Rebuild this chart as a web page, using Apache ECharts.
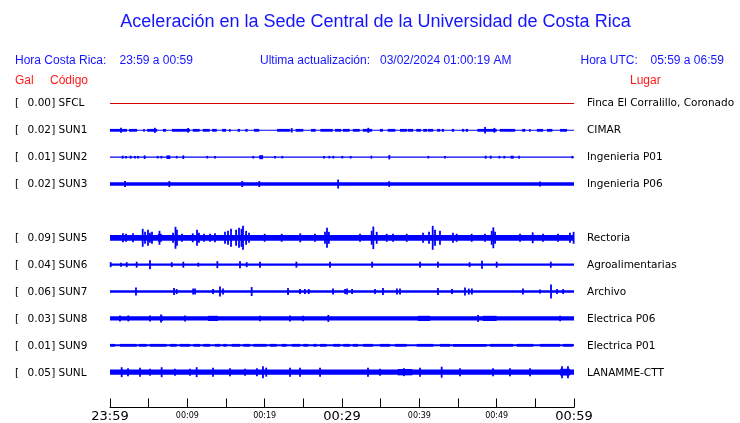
<!DOCTYPE html>
<html><head><meta charset="utf-8">
<script src="https://cdn.jsdelivr.net/npm/echarts@6/dist/echarts.min.js"></script>
<style>html,body{margin:0;padding:0;background:#fff}#c{width:740px;height:423px}</style>
</head><body><div id="c"></div>
<script>
// ---------- data ----------
const title = 'Aceleración en la Sede Central de la Universidad de Costa Rica';
const horaCR = '23:59 a 00:59';
const ultima = '03/02/2024 01:00:19 AM';
const horaUTC = '05:59 a 06:59';
const codes  = ['SFCL','SUN1','SUN2','SUN3','','SUN5','SUN6','SUN7','SUN8','SUN9','SUNL'];
const gal    = ['0.00','0.02','0.01','0.02','','0.09','0.04','0.06','0.03','0.01','0.05'];
const places = ['Finca El Corralillo, Coronado','CIMAR','Ingenieria P01','Ingenieria P06','','Rectoria','Agroalimentarias','Archivo','Electrica P06','Electrica P01','LANAMME-CTT'];
const tickLabels = ['23:59','','00:09','','00:19','','00:29','','00:39','','00:49','','00:59'];
// envelope half-width of the continuous background band of each trace
const baseAmp = [0.5, 0.5, 0.6, 1.8, null, 2.9, 1.2, 1.3, 2.2, 1.0, 2.7];
// events: [start minute, end minute, envelope half-width]
const sfcl = [];
const sun1 = [[0,2.2,1.4],[1.42,1.42,2.5],[2.46,3.5,1.4],[4.3,4.5,1.4],[4.8,6.1,1.4],[5.8,5.8,2.5],[6.85,7.24,1.4],[8.0,10.35,1.4],[10.1,10.1,2.3],[10.7,11.6,1.4],[12.0,12.9,1.4],[13.2,13.8,1.4],[14.5,15.0,1.4],[15.4,15.6,1.4],[16.5,16.8,1.4],[17.5,17.8,1.4],[18.6,19.3,1.4],[21.6,23.3,1.4],[23.5,23.5,2.2],[24.0,25.0,1.4],[26.0,26.6,1.4],[27.2,28.8,1.4],[29.1,29.9,1.4],[30.1,31.0,1.4],[31.4,32.3,1.4],[32.7,33.9,1.4],[33.4,33.4,2.5],[34.9,35.3,1.4],[35.9,36.9,1.4],[37.5,38.4,1.4],[38.5,39.2,1.4],[39.6,40.2,1.4],[40.5,41.0,1.4],[41.1,41.8,1.4],[42.3,42.7,1.4],[42.9,43.2,1.4],[44.2,44.5,1.4],[45.5,45.8,1.4],[46.0,46.3,1.4],[47.5,50.0,1.4],[48.5,48.5,3.2],[49.7,49.7,2.4],[50.4,52.4,1.4],[53.3,53.7,1.4],[54.2,54.4,1.4],[55.2,56.0,1.4],[56.5,57.2,1.4],[58.2,59.1,1.4]];
const sun2 = [[1.64,1.64,1.5],[2.07,2.07,1.3],[2.67,2.67,1.5],[3.23,3.23,1.3],[3.62,3.62,1.3],[4.48,4.48,1.8],[6.16,6.16,1.3],[6.64,6.64,1.3],[7.3,7.8,1.8],[8.62,8.62,1.3],[9.48,9.48,1.8],[12.58,12.58,1.3],[13.58,13.58,1.3],[18.53,18.53,1.3],[19.3,19.8,2.0],[21.34,21.34,1.3],[22.28,22.28,1.3],[27.67,27.67,1.3],[28.36,28.36,1.3],[28.88,28.88,1.3],[30.04,30.04,1.3],[31.12,31.12,1.3],[33.7,33.9,1.5],[36.12,36.12,2.2],[41.16,41.16,1.3],[43.32,43.32,1.3],[48.58,48.58,1.5],[49.23,49.23,1.5],[50.35,50.35,1.3],[50.99,50.99,1.3],[51.8,52.2,1.5],[52.8,53.0,1.5],[59.78,59.78,1.3]];
const sun3 = [[1.94,1.94,3],[7.67,7.67,3],[17.1,17.1,3],[19.3,19.3,3],[29.5,29.5,4.5],[36.1,36.1,2.8],[55.6,55.6,2.5]];
const sun4 = [];
const sun5 = [[1.68,1.68,4.5],[2.07,2.07,4],[2.97,2.97,4.5],[4.23,4.23,9],[4.53,4.53,6],[4.91,4.91,8],[5.17,5.17,5],[5.43,5.43,6],[6.2,6.7,4],[6.4,6.4,7],[8.15,8.15,5],[8.47,8.47,11],[8.66,8.66,8],[9.31,9.31,4],[10.7,10.7,4.5],[11.25,11.25,8],[11.5,11.5,5],[12.15,12.15,4],[12.93,12.93,4],[13.58,13.58,4.5],[14.87,14.87,6],[15.26,15.26,7],[15.65,15.65,9],[16.3,16.3,8],[16.68,16.68,10],[17.0,17.0,9],[17.2,17.2,12],[17.6,17.6,7],[17.98,17.98,5],[20.0,20.0,4],[22.2,22.2,4],[24.6,24.6,4.5],[26.5,26.5,4],[27.8,27.8,6],[28.06,28.06,10],[28.3,28.3,6],[32.33,32.33,4],[33.84,33.84,7],[34.05,34.05,11.3],[34.49,34.49,6],[35.78,35.78,4],[36.6,36.6,4],[38.37,38.37,4],[40.48,40.48,5],[41.25,41.25,6],[41.73,41.73,12],[42.03,42.03,8],[42.67,42.67,7],[44.35,44.35,5],[44.83,44.83,4],[46.77,46.77,4],[48.49,48.49,4],[49.36,49.36,7],[49.57,49.57,10.5],[49.79,49.79,6],[53.02,53.02,4],[54.66,54.66,5.5],[55.99,55.99,4],[57.93,57.93,4],[59.48,59.48,5],[59.95,59.95,6]];
const sun6 = [[0.09,0.09,2.5],[1.42,1.42,2],[2.16,2.16,2.5],[3.45,3.45,3],[5.17,5.17,4.5],[7.98,7.98,2.5],[9.48,9.48,3],[11.42,11.42,2],[13.88,13.88,3.5],[16.81,16.81,3.5],[17.68,17.68,2.5],[19.4,19.4,3],[24.1,24.1,3],[28.45,28.45,3],[33.9,33.9,3],[40.1,40.1,3],[42.4,42.4,3],[46.5,46.5,2.5],[48.1,48.1,4],[50.0,50.0,3],[57.0,57.0,3]];
const sun7 = [[3.36,3.36,4],[8.28,8.28,3.5],[8.62,8.62,2.5],[10.75,10.75,3],[11.0,11.0,3],[13.32,13.32,2.5],[14.22,14.22,5],[14.61,14.61,3],[18.32,18.32,4.5],[23.02,23.02,3.5],[24.57,24.57,2.5],[25.2,25.2,2.5],[25.7,25.7,2.5],[28.84,28.84,3],[30.4,30.4,2.5],[30.65,30.65,3],[31.3,31.3,2.5],[34.27,34.27,2.5],[35.3,35.3,3.5],[37.1,37.1,3],[37.5,37.5,3],[42.41,42.41,3.5],[44.22,44.22,2.5],[45.9,45.9,4],[46.4,46.4,3],[46.8,46.8,3],[53.4,53.4,3],[55.6,55.6,2],[57.03,57.03,7],[57.8,57.8,2.5],[58.6,58.6,2.5]];
const sun8 = [[1.29,1.29,3],[2.37,2.37,3],[5.17,5.17,3],[6.47,6.85,2.7],[6.6,6.6,4],[9.7,9.7,3],[12.67,13.97,2.6],[19.4,19.4,2.8],[23.28,23.28,3],[24.96,24.96,2.8],[28.23,28.23,3.5],[39.8,41.4,2.6],[47.6,47.6,3.5],[48.2,50.0,2.6],[58.2,58.2,2.8]];
const sun9 = [[0,0.65,1.4],[1.29,3.45,1.4],[3.75,4.75,1.4],[5.17,7.33,1.4],[7.76,8.62,1.4],[9.05,10.34,1.4],[10.77,11.64,1.4],[12.06,12.93,1.4],[13.58,14.22,1.4],[14.65,15.09,1.4],[15.74,16.81,1.4],[17.24,18.1,1.4],[18.53,20.26,1.4],[20.69,21.56,1.4],[22.2,22.85,1.4],[23.5,24.57,1.4],[25.0,25.64,1.4],[26.29,26.73,1.4],[27.16,28.02,1.4],[28.87,29.74,1.4],[30.17,31.03,1.4],[31.4,32.07,1.4],[32.72,34.01,1.4],[34.91,36.21,1.4],[36.85,38.37,1.4],[39.66,41.81,1.4],[42.67,43.97,1.4],[44.35,48.71,1.4],[49.14,52.11,1.4],[52.59,54.74,1.4],[55.6,58.19,1.4],[58.58,59.87,1.4]];
const sunl = [[1.51,1.51,5],[2.33,2.33,4],[3.88,3.88,4.5],[5.17,5.17,3.5],[6.68,6.68,5],[8.4,8.4,3.5],[10.34,10.34,3.5],[11.21,11.21,5],[13.32,13.32,4.5],[15.52,15.52,4],[17.46,17.46,3.5],[19.0,19.0,4],[19.78,19.78,6],[20.2,20.2,4.5],[23.28,23.28,4.5],[24.57,24.57,4.5],[27.16,27.16,4.5],[33.36,33.36,4.5],[34.91,34.91,3.5],[37.2,39.1,3.2],[38.0,38.0,4],[40.09,40.09,4.5],[42.89,42.89,5.5],[45.26,45.26,4],[49.53,49.53,4],[51.72,51.72,4],[54.31,54.31,4],[58.2,59.5,3.4],[58.45,58.45,6],[59.22,59.22,6]];
const events = [sfcl, sun1, sun2, sun3, sun4, sun5, sun6, sun7, sun8, sun9, sunl];

// ---------- chart ----------
const ROW = 27;               // y-units between traces
const traceColor = i => i === 0 ? '#d40000' : '#0000ff';
const txtBlue = '#1414ff', txtRed = '#ff1a1a';

const series = [];
codes.forEach((code, i) => {
  if (!code) return;
  const items = [[0, 60, baseAmp[i], i]].concat(events[i].map(e => [e[0], e[1], e[2], i]));
  series.push({
    type: 'custom', name: code, silent: true, animation: false,
    encode: { x: [0, 1], y: 2 },
    data: items,
    renderItem: (params, api) => {
      const t0 = api.value(0), t1 = api.value(1), a = api.value(2), r = api.value(3);
      const p0 = api.coord([t0, r * ROW - a]);
      const p1 = api.coord([t1, r * ROW + a]);
      const spike = t0 === t1;
      const w = spike ? 1.8 : Math.max(p1[0] - p0[0], 1.3);
      return { type: 'rect', shape: { x: p0[0] - (spike ? 0.9 : 0), y: Math.min(p0[1], p1[1]), width: w, height: Math.max(Math.abs(p1[1] - p0[1]), 1) },
               style: { fill: traceColor(r) } };
    }
  });
});

const g = [];
const T = (x, y, text, font, fill, align) => g.push({ type: 'text', x, y, silent: true,
  style: { text, font, fill, align: align || 'left', verticalAlign: 'middle' } });
const hdr = '12px "Liberation Sans", Arial, sans-serif';
const lab = '10.5px "DejaVu Sans", sans-serif';
T(375.5, 22, title, '18px "Liberation Sans", Arial, sans-serif', txtBlue, 'center');
T(15, 60.5, 'Hora Costa Rica:', hdr, txtBlue);
T(119.5, 60.5, horaCR, hdr, txtBlue);
T(260, 60.5, 'Ultima actualización:', hdr, txtBlue);
T(380, 60.5, ultima, hdr, txtBlue);
T(580.5, 60.5, 'Hora UTC:', hdr, txtBlue);
T(650.5, 60.5, horaUTC, hdr, txtBlue);
T(15, 80.5, 'Gal', hdr, txtRed);
T(50, 80.5, 'Código', hdr, txtRed);
T(630, 80.5, 'Lugar', hdr, txtRed);
codes.forEach((code, i) => {
  if (!code) return;
  const y = 103.5 + ROW * i;
  T(15, y, '[', lab, '#000');
  T(51, y, gal[i], lab, '#000', 'right');
  T(51.3, y, ']', lab, '#000');
  T(58.5, y, code, lab, '#000');
  T(587, y, places[i], lab, '#000');
});

const chart = echarts.init(document.getElementById('c'), null, { renderer: 'canvas' });
chart.setOption({
  animation: false,
  backgroundColor: '#fff',
  grid: { left: 110, right: 166, top: 90, bottom: 14, containLabel: false },
  xAxis: {
    type: 'value', min: 0, max: 60, interval: 5, position: 'bottom',
    axisLine: { show: true, onZero: false, lineStyle: { color: '#000', width: 1 } },
    axisTick: { show: true, inside: true, length: 9, lineStyle: { color: '#000' } },
    splitLine: { show: false },
    axisLabel: {
      show: true, margin: 3, hideOverlap: false, showMinLabel: true, showMaxLabel: true,
      formatter: (v) => {
        const s = tickLabels[Math.round(v / 5)] || '';
        if (!s) return '';
        return (v % 30 === 0) ? '{b|' + s + '}' : '{s|' + s + '}';
      },
      rich: {
        b: { fontSize: 13, fontFamily: 'DejaVu Sans', color: '#000', lineHeight: 12 },
        s: { fontSize: 8, fontFamily: 'DejaVu Sans', color: '#000', lineHeight: 10 }
      }
    }
  },
  yAxis: { type: 'value', min: -13.5, max: 305.5, inverse: true, show: false },
  graphic: g,
  series
});
</script>
</body></html>
